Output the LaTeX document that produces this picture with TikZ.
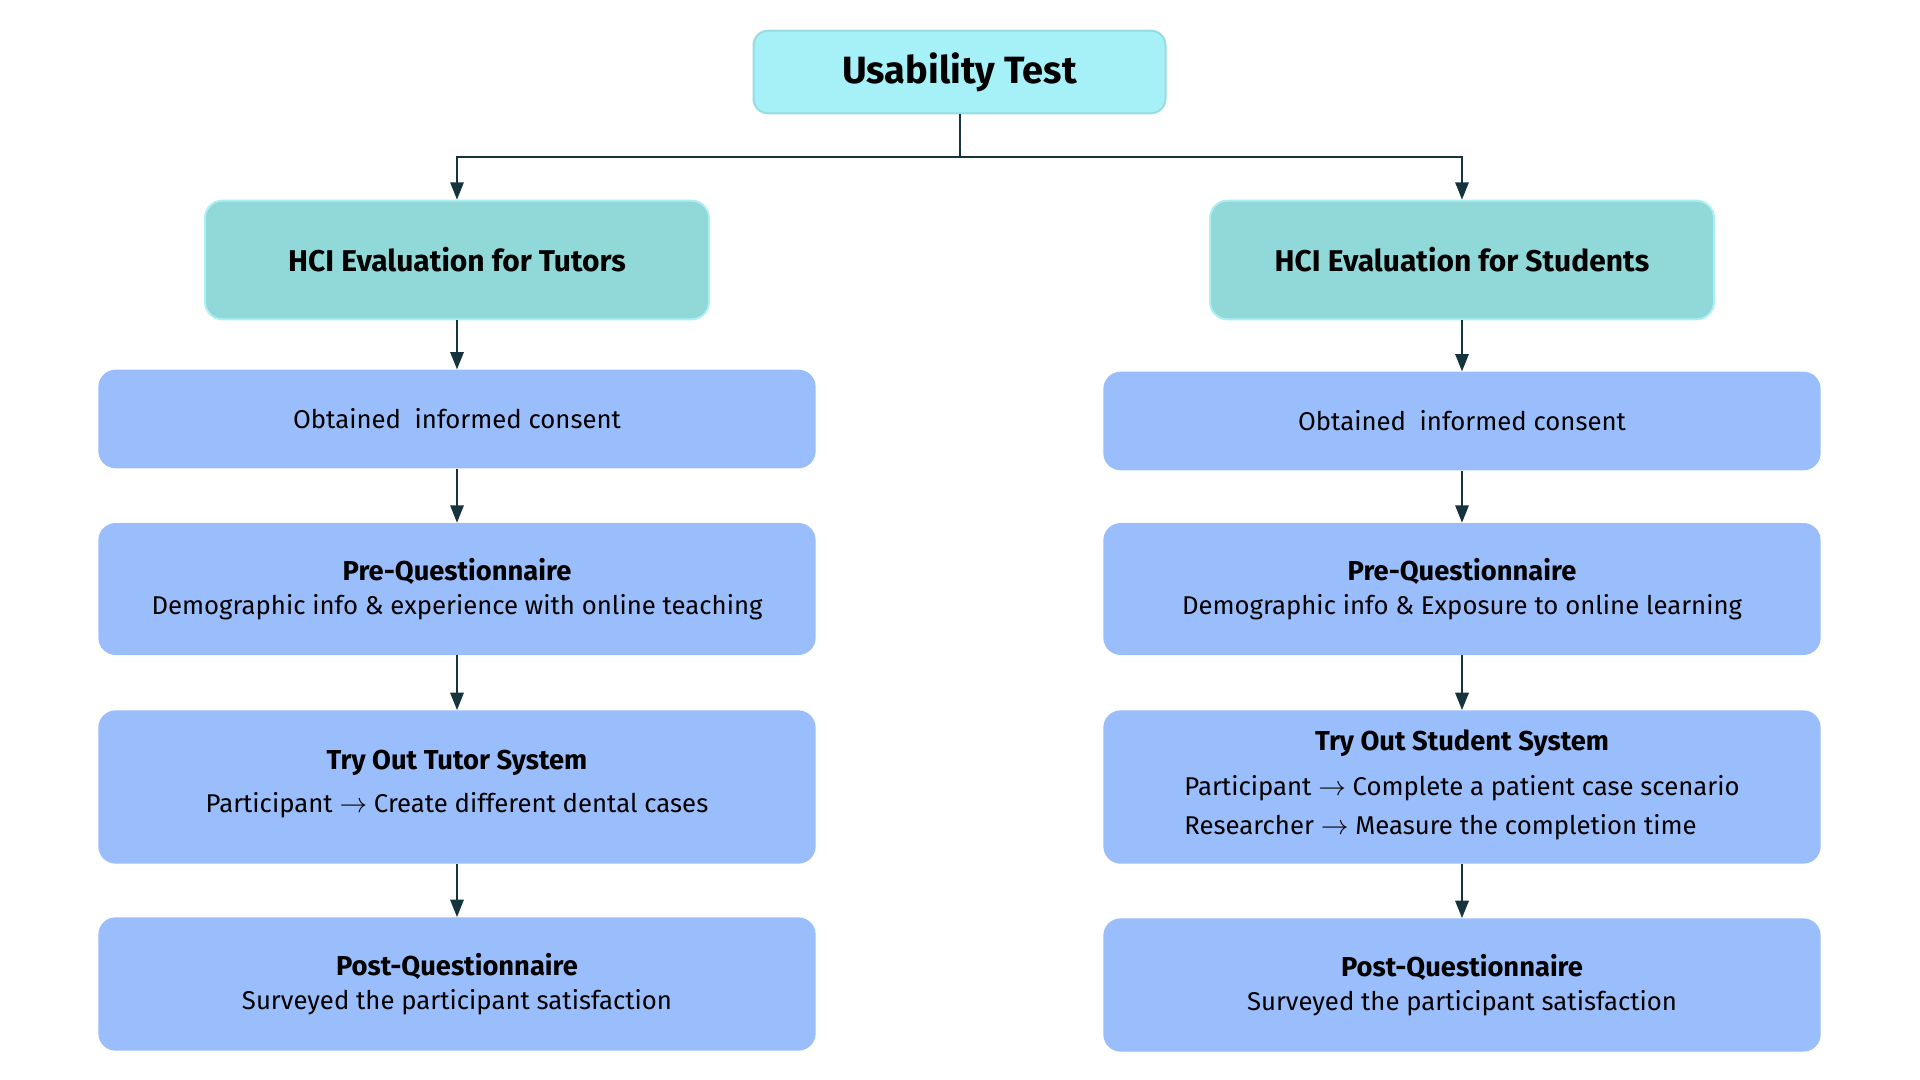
\documentclass[tikz,border=0pt]{standalone}
\usepackage{fontspec}
\setmainfont{Fira Sans}
\usetikzlibrary{arrows.meta,positioning}

\definecolor{topfill}{HTML}{A6F0F7}
\definecolor{topline}{HTML}{96DCE0}
\definecolor{groupfill}{HTML}{91D9D9}
\definecolor{groupline}{HTML}{AEEFF3}
\definecolor{stepfill}{HTML}{9ABDFC}
\definecolor{linkcol}{HTML}{16343D}

\newcommand{\steptitle}[1]{{\fontsize{20.5}{26}\selectfont\bfseries #1}}

\tikzset{
  topbox/.style={draw=topline,line width=1.5pt,fill=topfill,rounded corners=11pt,
    minimum width=309pt,minimum height=62pt,font=\fontsize{28.5}{32}\selectfont\bfseries},
  groupbox/.style={draw=groupline,line width=1.5pt,fill=groupfill,rounded corners=13pt,
    minimum width=378pt,minimum height=89pt,font=\fontsize{22.5}{26}\selectfont\bfseries},
  stepbox/.style={fill=stepfill,rounded corners=13pt,minimum width=538pt,
    align=center,font=\fontsize{19.3}{26}\selectfont},
  link/.style={draw=linkcol,line width=1.5pt,-{Triangle[length=13pt,width=10pt]}}
}

\begin{document}
\begin{tikzpicture}[x=0.75pt,y=-0.75pt]
    \useasboundingbox (0,0) rectangle (1920,1080);
    % Root
    \node[topbox] (usab) at (959.5,72) {Usability Test};
    \coordinate (split) at (959.5,157);
    % Tutors
    \node[groupbox] (tutors) at (457,260) {HCI Evaluation for Tutors};
    \node[stepbox,minimum height=74pt] (consT) at (457,419) {Obtained\ \ informed consent};
    \node[stepbox,minimum height=99pt] (preT) at (457,589)
      {\steptitle{Pre-Questionnaire}\\Demographic info \& experience with online teaching};
    \node[stepbox,minimum height=115pt] (tryT) at (457,787)
      {\steptitle{Try Out Tutor System}\\[6pt]Participant $\rightarrow$ Create different dental cases\\[-17pt]\mbox{}};
    \node[stepbox,minimum height=100pt] (postT) at (457,984)
      {\steptitle{Post-Questionnaire}\\Surveyed the participant satisfaction};
    % Students
    \node[groupbox] (studs) at (1462,260) {HCI Evaluation for Students};
    \node[stepbox,minimum height=74pt] (consS) at (1462,421) {Obtained\ \ informed consent};
    \node[stepbox,minimum height=99pt] (preS) at (1462,589)
      {\steptitle{Pre-Questionnaire}\\Demographic info \& Exposure to online learning};
    \node[stepbox,minimum height=115pt] (tryS) at (1462,787)
      {\steptitle{Try Out Student System}\\[10pt]
       \begin{tabular}{@{}l@{}}Participant $\rightarrow$ Complete a patient case scenario\\[3pt]
       Researcher $\rightarrow$ Measure the completion time\end{tabular}};
    \node[stepbox,minimum height=100pt] (postS) at (1462,985)
      {\steptitle{Post-Questionnaire}\\Surveyed the participant satisfaction};
    % Links
    \draw[draw=linkcol,line width=1.5pt] (usab) -- (split);
    \draw[link] (split) -| (tutors);
    \draw[link] (split) -| (studs);
    \draw[link] (tutors) -- (consT);
    \draw[link] (consT) -- (preT);
    \draw[link] (preT) -- (tryT);
    \draw[link] (tryT) -- (postT);
    \draw[link] (studs) -- (consS);
    \draw[link] (consS) -- (preS);
    \draw[link] (preS) -- (tryS);
    \draw[link] (tryS) -- (postS);
\end{tikzpicture}
\end{document}
